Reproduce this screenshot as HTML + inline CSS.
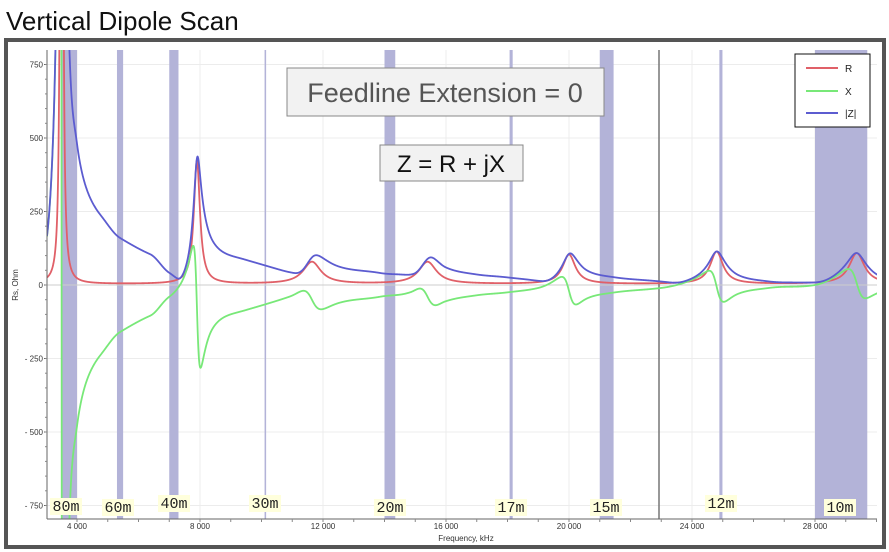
<!DOCTYPE html>
<html><head><meta charset="utf-8"><style>
html,body{margin:0;padding:0;background:#fff;width:889px;height:552px;overflow:hidden}
svg{display:block}
text{font-family:"Liberation Sans",sans-serif}
.bl{font-family:"Liberation Mono",monospace;font-size:15px;fill:#222}
.tk{font-size:8px;fill:#333}
</style></head><body>
<svg id="s" width="889" height="552" viewBox="0 0 889 552" xmlns="http://www.w3.org/2000/svg">
<text x="6" y="30" font-size="26" fill="#111">Vertical Dipole Scan</text>
<rect x="6" y="40" width="878" height="507" fill="#fff" stroke="#555" stroke-width="4"/>
<defs><clipPath id="cp"><rect x="47" y="50" width="830" height="469"/></clipPath></defs>
<g id="grid" stroke="#ececec" stroke-width="1"></g>
<g id="bands"></g>
<line x1="47" y1="285" x2="877" y2="285" stroke="#ccc"/>
<line x1="659" y1="50" x2="659" y2="519" stroke="#777" stroke-width="1.5"/>
<g clip-path="url(#cp)" fill="none" stroke-width="1.8">
<path id="pR" stroke="#e06068"/>
<path id="pX" stroke="#78e878"/>
<path id="pZ" stroke="#5c5cd0"/>
</g>
<line x1="47" y1="50" x2="47" y2="519" stroke="#666"/>
<line x1="47" y1="519" x2="877" y2="519" stroke="#666"/>
<g id="ticks"></g>
<text x="18" y="285" font-size="8" fill="#333" transform="rotate(-90 18 285)" text-anchor="middle">Rs, Ohm</text>
<text x="466" y="541" font-size="8" fill="#333" text-anchor="middle">Frequency, kHz</text>
<g id="blabels"></g>
<rect x="287" y="68" width="317" height="48" fill="#f2f2f2" stroke="#888"/>
<text x="445" y="102" font-size="27" fill="#555" text-anchor="middle">Feedline Extension = 0</text>
<rect x="380" y="145" width="143" height="36" fill="#f2f2f2" stroke="#888"/>
<text x="451" y="172" font-size="24" fill="#111" text-anchor="middle">Z = R + jX</text>
<rect x="795" y="54" width="75" height="73" fill="#fff" stroke="#111" stroke-width="1"/>
<line x1="806" y1="68" x2="838" y2="68" stroke="#e06068" stroke-width="2"/>
<line x1="806" y1="91" x2="838" y2="91" stroke="#78e878" stroke-width="2"/>
<line x1="806" y1="113" x2="838" y2="113" stroke="#5c5cd0" stroke-width="2"/>
<text x="845" y="72" font-size="10" fill="#222">R</text>
<text x="845" y="95" font-size="10" fill="#222">X</text>
<text x="845" y="117" font-size="10" fill="#222">|Z|</text>
</svg>
<script>
var NS="http://www.w3.org/2000/svg";
function fx(f){return 77+(f-4000)*0.03075;}
function fy(v){return 285-v*0.294;}
function el(t,a,p,txt){var e=document.createElementNS(NS,t);for(var k in a)e.setAttribute(k,a[k]);if(txt!==undefined)e.textContent=txt;document.getElementById(p).appendChild(e);return e;}
[750,500,250,-250,-500,-750].forEach(function(v){el('line',{x1:47,x2:877,y1:fy(v),y2:fy(v)},'grid');});
[4000,8000,12000,16000,20000,24000,28000].forEach(function(f){el('line',{x1:fx(f),x2:fx(f),y1:50,y2:519},'grid');});
var bands=[[3500,4000],[5300,5500],[7000,7300],[10100,10150],[14000,14350],[18068,18168],[21000,21450],[24890,24990],[28000,29700]];
bands.forEach(function(b){var x1=fx(b[0]),x2=fx(b[1]);el('rect',{x:x1,y:50,width:Math.max(x2-x1,1.5),height:469,fill:'#b3b3d8'},'bands');});
[[750,'750'],[500,'500'],[250,'250'],[0,'0'],[-250,'- 250'],[-500,'- 500'],[-750,'- 750']].forEach(function(t){
 el('text',{x:43,y:fy(t[0])+3,'text-anchor':'end','class':'tk'},'ticks',t[1]);
 el('line',{x1:44,x2:47,y1:fy(t[0]),y2:fy(t[0]),stroke:'#666'},'ticks');});
for(var v=-750;v<=750;v+=50){el('line',{x1:45,x2:47,y1:fy(v),y2:fy(v),stroke:'#888'},'ticks');}
[4000,8000,12000,16000,20000,24000,28000].forEach(function(f){
 el('text',{x:fx(f),y:529,'text-anchor':'middle','class':'tk'},'ticks',(f/1000)+' 000');});
for(var f=4000;f<=30000;f+=1000){el('line',{x1:fx(f),x2:fx(f),y1:519,y2:522,stroke:'#888'},'ticks');}
[['80m',66,511],['60m',118,512],['40m',174,508],['30m',265,508],['20m',390,512],['17m',511,512],['15m',606,512],['12m',721,508],['10m',840,512]].forEach(function(b){
 var w=32;el('rect',{x:b[1]-w/2,y:b[2]-13,width:w,height:17,fill:'#ffffdc'},'blabels');
 el('text',{x:b[1],y:b[2],'text-anchor':'middle','class':'bl'},'blabels',b[0]);});
var res=[[3500,8000,25],[7900,420,120],[11640,75,350],[15400,75,350],[20000,100,250],[24800,110,250],[29360,105,300]];
function disp(f){var s=0,r=0;res.forEach(function(k){var u=(f-k[0])/k[2];s+=-k[1]*u/(1+u*u);r+=k[1]/(1+u*u);});return [r,s];}
var T=[[3024,165],[3770,-750],[4000,-480],[4750,-240],[5400,-160],[6370,-105],[7000,-40],[7900,-75],[8400,-150],[9500,-85],[10900,-40],[11640,-50],[12550,-60],[13850,-40],[14830,-25],[15400,-40],[16000,-55],[17000,-35],[18000,-25],[19000,-10],[20000,-20],[20600,-45],[21500,-25],[23000,-10],[24800,-5],[25500,-30],[26500,-10],[28000,0],[29360,5],[30100,-25]];
var B=T.map(function(t){return [t[0],t[1]-disp(t[0])[1]];});
function bI(f){if(f<=B[0][0])return B[0][1];for(var i=1;i<B.length;i++){if(f<=B[i][0]){var a=B[i-1],b=B[i],t=(f-a[0])/(b[0]-a[0]);t=(1-Math.cos(Math.PI*t))/2;return a[1]+t*(b[1]-a[1]);}}return B[B.length-1][1];}
function cl(v){return Math.max(-900,Math.min(900,v));}
var pR='',pX='',pZ='';
for(var f=3024;f<=30050;f+=5){var d=disp(f),R=d[0]+3,X=d[1]+bI(f),Z=Math.sqrt(R*R+X*X);var c=(f==3024)?'M':'L';var x=fx(f).toFixed(2);
 pR+=c+x+' '+fy(cl(R)).toFixed(2);pX+=c+x+' '+fy(cl(X)).toFixed(2);pZ+=c+x+' '+fy(cl(Z)).toFixed(2);}
document.getElementById('pR').setAttribute('d',pR);
document.getElementById('pX').setAttribute('d',pX);
document.getElementById('pZ').setAttribute('d',pZ);
</script>
</body></html>
